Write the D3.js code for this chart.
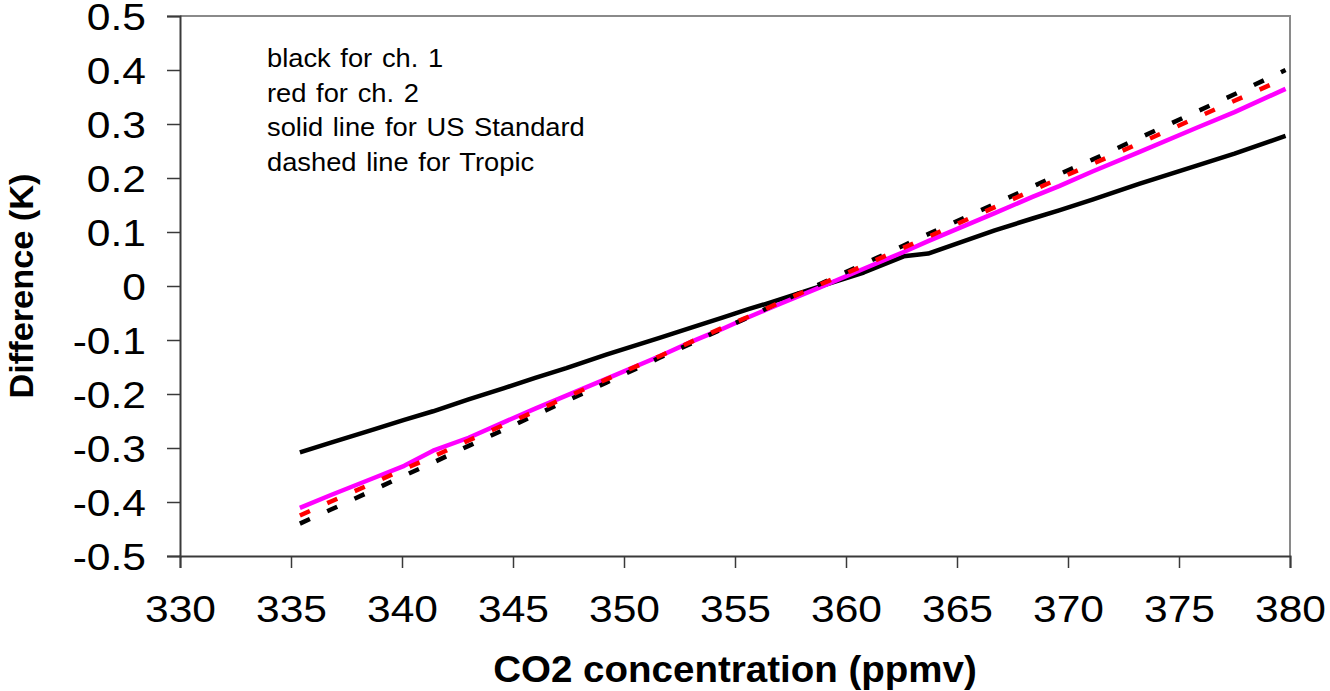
<!DOCTYPE html>
<html>
<head>
<meta charset="utf-8">
<script src="https://cdn.jsdelivr.net/npm/d3@7"></script>
<style>
  html, body { margin: 0; padding: 0; background: #fff; }
  svg { display: block; }
  text { font-family: "Liberation Sans", Arial, sans-serif; fill: #000; }
</style>
</head>
<body>
<svg id="chart" width="1330" height="691"></svg>
<script>
// CO2 concentration (ppmv) at each sample
const co2 = [335.4, 336.8, 338.7, 340.1, 341.4, 343.0, 344.6, 346.0, 347.4, 349.2,
             351.6, 353.1, 354.4, 355.6, 356.4, 357.1, 358.8, 360.8, 362.6, 363.7,
             366.7, 368.4, 369.6, 371.1, 373.2, 375.8, 377.5, 379.8];

// Brightness temperature difference (K)
const ch1US = [-0.308, -0.290, -0.266, -0.248, -0.232, -0.210, -0.189, -0.170, -0.152, -0.127,
               -0.096, -0.076, -0.059, -0.043, -0.033, -0.024, -0.001, 0.025, 0.055, 0.060,
               0.103, 0.125, 0.140, 0.160, 0.189, 0.223, 0.245, 0.278];
const ch1Tropic = [-0.440, -0.414, -0.378, -0.351, -0.327, -0.296, -0.266, -0.239, -0.213, -0.179,
                   -0.133, -0.105, -0.080, -0.058, -0.042, -0.028, 0.003, 0.041, 0.075, 0.096,
                   0.152, 0.184, 0.207, 0.234, 0.274, 0.323, 0.355, 0.400];
const ch2US = [-0.411, -0.387, -0.356, -0.333, -0.305, -0.281, -0.252, -0.227, -0.203, -0.172,
               -0.130, -0.102, -0.080, -0.058, -0.044, -0.032, -0.003, 0.032, 0.063, 0.083,
               0.135, 0.165, 0.185, 0.212, 0.248, 0.293, 0.322, 0.365];
const ch2Tropic = [-0.425, -0.399, -0.365, -0.339, -0.316, -0.286, -0.257, -0.232, -0.206, -0.173,
                   -0.130, -0.102, -0.078, -0.057, -0.042, -0.029, 0.002, 0.038, 0.071, 0.091,
                   0.146, 0.177, 0.199, 0.226, 0.264, 0.312, 0.343, 0.385];

const xTicks = [330, 335, 340, 345, 350, 355, 360, 365, 370, 375, 380];
const yTicks = [-0.5, -0.4, -0.3, -0.2, -0.1, 0, 0.1, 0.2, 0.3, 0.4, 0.5];

const notes = ["black for ch. 1", "red for ch. 2", "solid line for US Standard", "dashed line for Tropic"];

const svg = d3.select("#chart");
const plot = { left: 180, right: 1290, top: 16, bottom: 556 };
const wide = 1.15;   // horizontal stretch of the tick labels

const x = d3.scaleLinear().domain([330, 380]).range([plot.left, plot.right]);
const y = d3.scaleLinear().domain([-0.5, 0.5]).range([plot.bottom, plot.top]);

// top and right frame edges
svg.append("path")
  .attr("d", `M${plot.left},${plot.top}H${plot.right}V${plot.bottom}`)
  .attr("fill", "none").attr("stroke", "#8a8a8a").attr("stroke-width", 2);

// axes
const xAxis = d3.axisBottom(x).tickValues(xTicks).tickSize(12).tickFormat(d3.format("d"));
const yAxis = d3.axisLeft(y).tickValues(yTicks).tickSize(13)
  .tickFormat(d => d === 0 ? "0" : d.toFixed(1));

const gx = svg.append("g").attr("transform", `translate(0,${plot.bottom})`).call(xAxis);
const gy = svg.append("g").attr("transform", `translate(${plot.left},0)`).call(yAxis);

[gx, gy].forEach(g => {
  g.select(".domain").attr("stroke", "#3a3a3a").attr("stroke-width", 2);
  g.selectAll(".tick line").attr("stroke", "#3a3a3a").attr("stroke-width", 1.5);
  g.selectAll(".tick text")
    .attr("font-family", "'Liberation Sans', Arial, sans-serif")
    .attr("font-size", 37).attr("fill", "#000");
});
gx.selectAll(".tick text")
  .attr("x", 0).attr("y", 0).attr("dy", null)
  .attr("transform", `translate(0,66) scale(${wide},1)`);
gy.selectAll(".tick text")
  .attr("x", 0).attr("dy", "0.36em")
  .attr("transform", `translate(-34,0) scale(${wide},1)`);

// series lines
const series = [
  { values: ch1US, color: "#000000", dash: null, width: 4.5 },
  { values: ch2US, color: "#ff00ff", dash: null, width: 4.5 },
  { values: ch1Tropic, color: "#000000", dash: "11,19", width: 4.5 },
  { values: ch2Tropic, color: "#ff0000", dash: "11,19", width: 4.5 }
];

const line = d3.line().x(d => x(d[0])).y(d => y(d[1]));

series.forEach(s => {
  svg.append("path")
    .datum(co2.map((c, i) => [c, s.values[i]]))
    .attr("d", line)
    .attr("fill", "none")
    .attr("stroke", s.color)
    .attr("stroke-width", s.width)
    .attr("stroke-linejoin", "round")
    .attr("stroke-dasharray", s.dash);
});

// annotation block
svg.append("g").selectAll("text").data(notes).join("text")
  .attr("transform", (d, i) => `translate(267,${67 + i * 34.7}) scale(1.05,1)`)
  .attr("font-size", 26)
  .attr("word-spacing", 2)
  .text(d => d);

// axis titles
svg.append("text")
  .attr("transform", `translate(${x(355)},682) scale(1.07,1)`)
  .attr("text-anchor", "middle")
  .attr("font-size", 36).attr("font-weight", "bold")
  .text("CO2 concentration (ppmv)");

svg.append("text")
  .attr("transform", `translate(33,${y(0)}) rotate(-90) scale(1.04,1)`)
  .attr("text-anchor", "middle")
  .attr("font-size", 33).attr("font-weight", "bold")
  .text("Difference (K)");
</script>
</body>
</html>
